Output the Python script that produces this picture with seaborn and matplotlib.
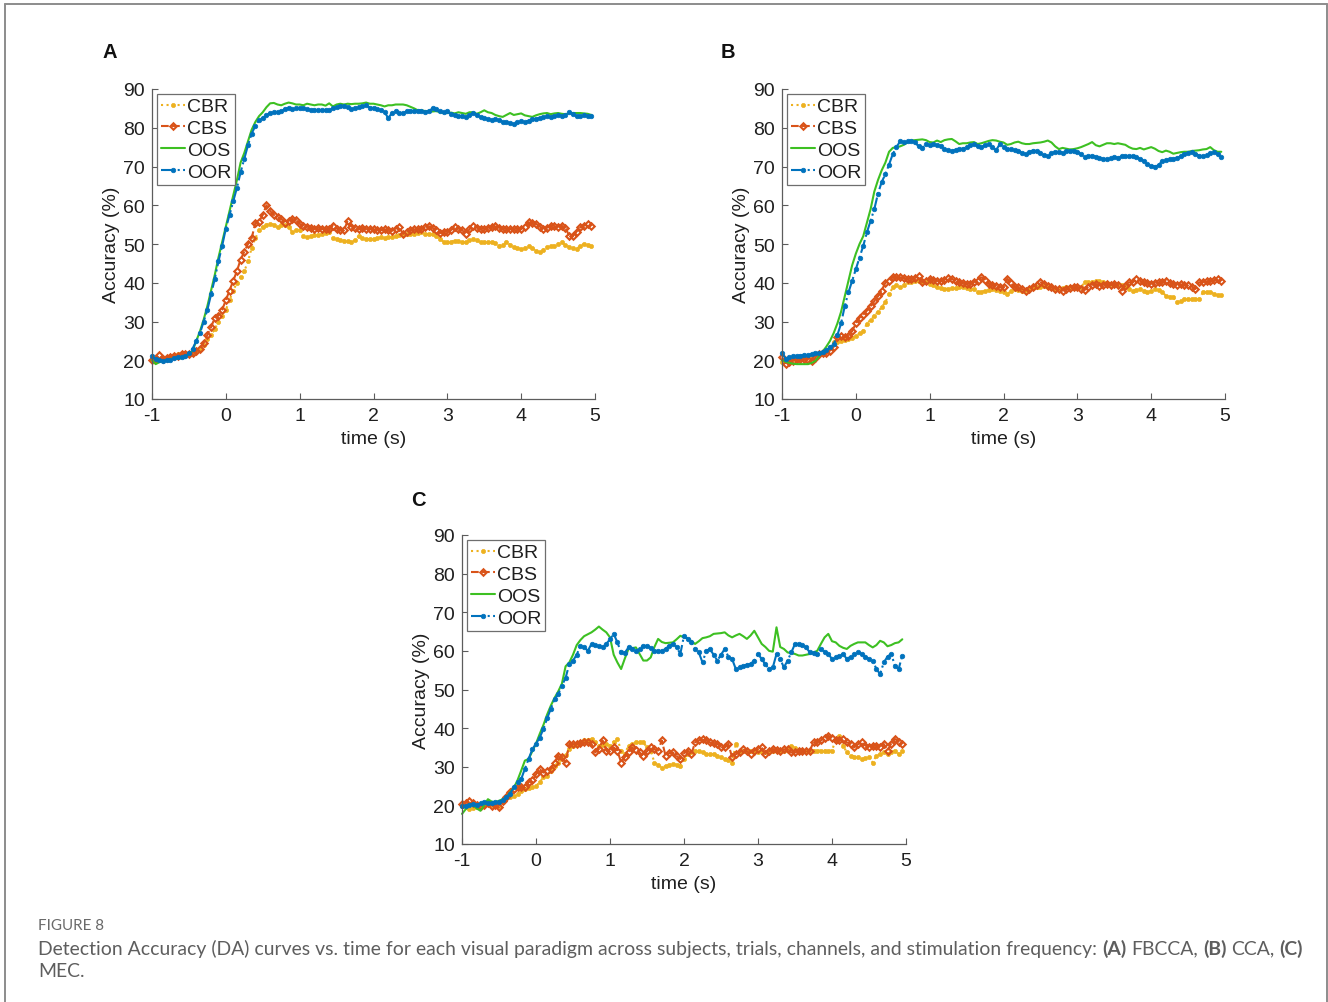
import numpy as np
import pandas as pd
import matplotlib
matplotlib.use("Agg")
import matplotlib.pyplot as plt
import seaborn as sns

# ---------------- data ----------------
time_s = np.round(np.arange(-1.0, 4.96, 0.05), 2)   # 120 samples, -1.00 ... 4.95 s

series_names = ["CBR", "CBS", "OOS", "OOR"]
panel_labels = ["A", "B", "C"]
y_ticks = [10, 20, 30, 40, 50, 60, 70, 80, 90]
x_ticks = [-1, 0, 1, 2, 3, 4, 5]

# Panel A (FBCCA)
A_CBR = [20, 20.3, 20, 20.5, 20.8, 21, 21.3, 21.5, 22, 22,
         22, 22, 22.5, 23, 24, 25.5, 26.5, 28, 30, 31.5,
         33, 35.5, 38, 40, 41.5, 43, 45.5, 49, 51.5, 53.5,
         54.5, 55, 55.2, 55, 54.3, 54.8, 55, 54.3, 53.2, 53.5,
         53.5, 52, 51.8, 52, 52.2, 52.3, 52.5, 52.8, 53, 51.5,
         51.2, 51, 50.9, 50.7, 50.5, 51, 52, 51.5, 51.3, 51.2,
         51.3, 51.5, 51.7, 51.5, 51.7, 51.8, 52, 52.2, 52.3, 52.5,
         52.5, 52.7, 52.8, 53, 52.7, 52.5, 52.6, 52, 51.3, 50.6,
         50.4, 50.6, 50.9, 50.7, 50.5, 50.4, 51, 51.3, 51, 50.4,
         50.4, 50.5, 50.4, 50.2, 49.6, 49.8, 50.4, 49.8, 49.2, 48.9,
         48.7, 49, 49.6, 49, 48.2, 47.9, 48.5, 49.2, 49.4, 49.6,
         50, 50.4, 49.8, 49.2, 49, 48.7, 49.5, 50, 49.8, 49.4]
A_CBS = [20, 20.2, 21.3, 20.2, 20.5, 20.8, 21, 21.2, 21.5, 21.5,
         21.5, 22, 22.3, 23, 24.5, 26.5, 28.5, 31, 31.5, 33,
         35.5, 38, 40.5, 43, 46, 48, 50, 51.5, 55.5, 55.8,
         57.5, 60, 58.5, 57.5, 57, 56.5, 55.5, 56, 56.5, 56.2,
         55.2, 54.7, 54.5, 54.2, 53.8, 54.2, 54, 53.8, 54, 54.7,
         54, 53.5, 53.5, 56, 54.5, 54.2, 54, 54.2, 54, 54,
         53.8, 53.5, 53.6, 53.8, 53.6, 53.4, 54, 54.3, 52.6, 53.2,
         53.6, 53.9, 53.8, 54, 54.3, 54.6, 54.2, 53.5, 52.8, 53.2,
         53.2, 53.6, 54.3, 54, 53.6, 52.6, 53.8, 54.7, 54.2, 53.9,
         53.9, 54.2, 54.4, 54.7, 54.2, 54, 53.8, 53.9, 54, 53.9,
         53.9, 54.5, 55.6, 55.3, 55.2, 54.5, 53.9, 54.2, 54.7, 54.6,
         54.5, 54.7, 54.2, 52.1, 52.1, 53.2, 54.3, 54.7, 55.2, 54.7]
A_OOS = [20, 19, 19.5, 19.8, 20, 20.3, 20.5, 20.5, 20.5, 21,
         21.5, 22.5, 25, 27.5, 30.5, 34, 38, 42, 46.5, 50.5,
         54.5, 58.5, 62.5, 66.5, 71, 73.5, 76.5, 79.5, 81.5, 83,
         84, 85.3, 86.3, 86.4, 86, 85.8, 86.2, 86.5, 86.3, 86,
         86, 85.8, 86.2, 86, 85.8, 86, 86, 85.7, 86.3, 85.5,
         86, 86.2, 86, 86.2, 86.1, 86.2, 86.2, 86.3, 86.5, 86.2,
         86.2, 86, 85.8, 85.5, 85.8, 85.8, 86, 86, 86, 85.8,
         85.4, 85, 84.5, 84.5, 84.3, 84.2, 84.2, 84.3, 84, 83.8,
         83.8, 83.9, 83.7, 84, 83.8, 83.6, 84, 84, 83.6, 84,
         84.5, 84, 83.8, 83.3, 83, 82.8, 83.3, 83.8, 83.3, 83.5,
         83.7, 83.2, 83, 82.8, 83.2, 83.5, 83.7, 83.8, 83.5, 83.7,
         83.8, 83.6, 83.5, 83.7, 83.8, 83.8, 83.8, 83.7, 83.6, 83.3]
A_OOR = [21, 20.2, 20, 19.8, 20, 20, 20.5, 20.8, 20.8, 21,
         22, 23, 25, 27, 30, 33, 37, 41, 45.5, 49.5,
         54, 57.5, 61, 64.5, 68.5, 72, 75.5, 78.5, 80.5, 82,
         82.5, 83.2, 83.8, 84, 84, 84.2, 84.8, 85.2, 84.8, 85,
         85.2, 85, 84.8, 84.6, 84.6, 84.5, 84.5, 84.6, 84.5, 85,
         85.3, 85.6, 85.5, 85.3, 84.8, 85, 85.4, 85.6, 85.8, 85.2,
         85, 84.8, 84.5, 84, 82.5, 83.8, 84.3, 83.8, 83.8, 84.2,
         84.4, 84.3, 84.3, 84.2, 84, 84.3, 85, 84.8, 84.2, 84,
         84.2, 83.6, 83.2, 83, 83, 82.8, 83.2, 83.8, 83.2, 82.8,
         82.6, 82.2, 82, 82.2, 82, 81.5, 81.4, 81.2, 80.9, 81.5,
         81.8, 81.6, 81.8, 82.2, 82.3, 82.6, 82.8, 83, 82.8, 83,
         83.2, 83, 83.2, 84, 83.5, 83, 83, 83.4, 83, 83]

# Panel B (CCA)
B_CBR = [19.5, 19.8, 20, 20.2, 20.3, 20.5, 20.8, 21, 21.2, 21.5,
         21.8, 22.2, 22.5, 23.5, 24.6, 24.8, 25, 25.2, 25.5, 25.8,
         26.2, 27, 27.6, 29.4, 30.5, 31.5, 32.5, 33.7, 35, 37,
         38.8, 39.3, 38.8, 39.5, 40.1, 40.3, 40.5, 40.5, 40.3, 40.1,
         39.8, 39.3, 38.8, 38.6, 38.4, 38.5, 38.6, 38.7, 38.8, 38.8,
         38.6, 38.4, 38.4, 37.5, 37.6, 38, 38.2, 38.4, 38.2, 38,
         37.7, 37.1, 37.8, 38.4, 38.2, 38, 38.1, 38.3, 38.6, 38.8,
         39, 39.2, 39, 38.8, 38.4, 38.4, 38.6, 38.8, 38.8, 38.8,
         38.8, 38.9, 40.1, 40.2, 40.3, 40.4, 40.5, 40.3, 40, 39.8,
         39.7, 39.7, 39.5, 39, 38.5, 38, 38.2, 38.4, 38, 37.5,
         38, 38.4, 38.2, 37.5, 36.7, 36.4, 36.2, 35, 35.3, 35.8,
         35.8, 35.8, 35.9, 35.8, 37.5, 37.6, 37.5, 37.2, 36.8, 36.8]
B_CBS = [20.8, 19, 19.5, 19.9, 20.2, 20.3, 20.3, 20, 19.9, 20.5,
         21.5, 22, 22, 22.5, 23.5, 26, 26.3, 25.9, 26.3, 27.5,
         29.5, 31, 31.8, 32.8, 34, 35.2, 36.5, 38, 40, 40.5,
         41.5, 41.6, 41.4, 41.2, 41, 41, 41.2, 41.8, 40.1, 40.5,
         41, 40.8, 40.5, 40.5, 40.8, 41.1, 41, 40.5, 40.1, 40,
         39.8, 39.7, 40.2, 40.5, 41.4, 40.8, 39.7, 39.5, 39.2, 38.8,
         38.8, 41, 40, 38.8, 39, 38.4, 38, 38.5, 39, 39.5,
         40.1, 39.8, 39.2, 38.8, 38.5, 38.4, 38, 38.3, 38.6, 38.8,
         38.8, 38.5, 38.2, 39, 39.5, 39.7, 39.2, 39.5, 39.7, 39.5,
         39.7, 39.3, 38, 39.2, 40.1, 40.2, 41, 40.5, 40.1, 40,
         39.8, 40, 40.1, 40.3, 40.5, 40, 39.7, 39.5, 39.6, 39.3,
         39.3, 39, 38.4, 40.1, 40.3, 40.4, 40.5, 40.6, 41, 40.5]
B_OOS = [20, 19.6, 19.3, 19.1, 19, 19, 19, 19, 19.3, 19.8,
         21, 22.2, 23.5, 25, 27, 29.5, 32.5, 36.5, 40.5, 44.5,
         47.5, 50, 52, 55.5, 59, 63.5, 66.5, 69, 71, 73.8,
         74.8, 75, 75.2, 75.6, 76.2, 76.7, 76.8, 76.9, 77, 76.8,
         76.3, 76.2, 76.7, 76.3, 76.8, 77, 77.1, 76.5, 75.8, 76,
         76, 76.2, 76.3, 75.8, 76, 76.3, 76.6, 76.8, 76.7, 76.4,
         76.2, 75.6, 75.8, 76.2, 76.4, 76, 75.8, 75.8, 76, 76.1,
         76.2, 76.4, 76.7, 76.2, 75.2, 74.5, 74.8, 74.6, 74.4, 74.5,
         74.7, 75, 75.4, 75.8, 76.3, 75.5, 75.2, 75.6, 76, 76,
         75.8, 76, 75.8, 75.6, 75, 74.6, 74.5, 74.8, 74.4, 74.7,
         75, 74.6, 74, 73.7, 74.1, 73.8, 73.3, 73.5, 73.7, 73.8,
         73.8, 74, 74.1, 74.2, 74.4, 74.5, 75, 74.2, 73.8, 73.8]
B_OOR = [22, 20.3, 20.8, 21, 21.2, 21.2, 21.4, 21.3, 21.6, 21.8,
         22, 22.2, 22.7, 23.3, 24.2, 26.5, 29.5, 34, 37.5, 40.5,
         43.5, 46.5, 49.5, 53, 56, 59, 63, 66, 68, 70.5,
         73.2, 75, 76.5, 76.3, 76.5, 76.7, 76.2, 75.2, 74.8, 75.8,
         75.6, 75.8, 75.5, 75.3, 74.5, 74.2, 74.1, 74.3, 74.5, 74.6,
         75, 75.5, 75.8, 75.2, 75, 75.5, 75.8, 75, 74.2, 75.8,
         75, 74.5, 74.4, 74.2, 74.1, 73.5, 73.2, 73.8, 74.1, 74,
         73.5, 73, 72.8, 73.4, 73.7, 73.8, 73.6, 74.1, 73.9, 74.1,
         73.8, 73.2, 72.4, 72.6, 72.8, 72.5, 72.2, 72, 71.9, 72.1,
         72.4, 72.3, 72.6, 72.8, 72.6, 72.8, 72.4, 71.9, 71.4, 70.6,
         70.2, 70, 70.3, 71.5, 71.7, 71.9, 72, 72.2, 72.6, 73.2,
         73.5, 73.7, 73.3, 72.8, 72.6, 73, 73.4, 73.7, 73.2, 72.4]

# Panel C (MEC)
C_CBR = [19.9, 19.5, 19.1, 19.3, 19.5, 19.8, 20.1, 20.4, 20.2, 20,
         19.9, 20.8, 21.8, 22.1, 22.5, 23, 23.8, 24.2, 24.5, 24.7,
         25, 26, 27.3, 27.7, 29, 30.3, 31.1, 32, 33, 34.5,
         35.5, 35.9, 36.3, 36.8, 37, 37.2, 36.3, 35.5, 35.7, 35.9,
         35.5, 36.5, 37.2, 34.2, 33.3, 35.5, 35.9, 36.3, 36.3, 36.3,
         35, 34.2, 31.1, 30.5, 29.8, 30.2, 30.5, 30.7, 30.5, 30.2,
         32, 33.3, 33.8, 34.2, 34, 33.7, 33.3, 33.3, 33.2, 32.9,
         32.5, 32, 31.8, 31.1, 35.9, 34.2, 34.2, 34.2, 34.2, 34,
         33.8, 33.7, 33.9, 34, 34.2, 34.2, 34.2, 34.2, 34.5, 35.5,
         34.8, 34.2, 34.2, 34.2, 34.2, 34.2, 34.2, 34.2, 34.2, 34.2,
         34.2, 37, 38, 35.5, 33.7, 32.9, 32.6, 32.4, 32, 32.2,
         32.4, 31.1, 32.9, 33.2, 33.7, 33.3, 33.8, 34.2, 33.3, 34.2]
C_CBS = [20.4, 20.6, 21.2, 20.5, 20.2, 19.9, 20.2, 20.5, 19.9, 20,
         19.5, 21.2, 22.2, 23.5, 24.2, 24.7, 24.7, 24.7, 26, 26.5,
         28, 29.4, 28.5, 28.8, 29.4, 31.1, 32.9, 32.4, 31.1, 35.9,
         35.9, 35.9, 36.1, 36.3, 36.3, 35.9, 33.7, 34.6, 36.8, 34.2,
         34.2, 35, 34.2, 31.1, 32.5, 33.7, 35, 34.3, 33.7, 32.9,
         34, 35, 34.5, 34.2, 36.8, 32.9, 33.5, 33.7, 32.8, 32,
         33.5, 34.2, 33.3, 36.3, 36.8, 37.2, 36.8, 36.3, 36.1, 35.9,
         35.2, 35, 35.9, 32.4, 33.2, 33.7, 34.6, 34, 33.3, 34.2,
         34.6, 35, 33.3, 34, 34.6, 34.4, 34.2, 34.5, 34.6, 33.7,
         33.7, 34.2, 34.2, 34.2, 34.2, 36.3, 36.5, 36.8, 37.5, 38,
         37.5, 36.8, 37, 37.2, 36.3, 36, 35, 35.8, 36.3, 35.5,
         35, 35.5, 35.5, 35, 35.9, 34.2, 36, 37.2, 36.5, 35.9]
C_OOS = [17.8, 19, 20.4, 20, 19.2, 18.6, 20, 21.6, 21, 20.8,
         21.2, 21.6, 22, 23.4, 24.5, 26.5, 29, 31.6, 32, 34,
         36, 38.5, 40.8, 43.5, 45.8, 47.8, 49.5, 51.5, 56, 57,
         59, 61.5, 62.8, 63.8, 64.3, 64.8, 65.5, 66.3, 65.5, 64.8,
         63.5, 59, 57, 55.3, 58, 60.5, 60.7, 60.9, 59.2, 57.5,
         57.5, 58.3, 61, 63.1, 62.3, 62, 62.1, 62.2, 63, 63.9,
         63.5, 63.2, 62.5, 61.8, 62.5, 63.3, 63.5, 63.8, 64.4, 64.5,
         64.6, 64.8, 64, 63.5, 64, 64.4, 63.8, 63.1, 64, 65.2,
         63.5, 61.8, 61, 60, 59.8, 66.1, 61, 60.5, 59.6, 59.4,
         59.2, 58.8, 58.8, 59, 59.2, 59.6, 60, 61.8, 63.5, 64.4,
         62.5, 62.2, 61.3, 60.8, 60.5, 61.3, 61.8, 62.2, 62.2, 62.2,
         61.5, 60.9, 61.5, 62.6, 62.2, 61.2, 61.5, 62, 62.2, 63]
C_OOR = [19.9, 19.8, 20, 20.4, 20, 20.5, 20.8, 20.5, 20.6, 20.8,
         21, 21.5, 22.1, 23, 24.7, 26, 26.8, 29.5, 32, 34.5,
         36, 37.5, 39.8, 42.5, 45, 47.5, 48.8, 51, 53, 56.6,
         57.5, 59, 61.3, 61, 60, 61.8, 61.5, 61.3, 60.9, 61.8,
         63, 64.4, 62.2, 59.6, 59.5, 60.9, 60.5, 60, 60.5, 61.3,
         61.3, 60.8, 60, 60, 60, 60.5, 61.3, 61.8, 61, 59.2,
         63.9, 63.1, 62.2, 60.5, 59.6, 57, 60, 60.5, 59, 57.5,
         59, 60.5, 58.5, 57.9, 55.3, 55.8, 56.2, 56.4, 56.6, 57.5,
         59.2, 57.9, 56.5, 55.3, 55.7, 59.2, 57.9, 55.7, 57.5, 59.6,
         61.8, 61.8, 61.5, 60.9, 59.6, 59.4, 59.2, 60.5, 59.8, 59.2,
         57.9, 58.3, 58.7, 59.2, 57.9, 58.5, 59.2, 59.6, 59.2, 58.5,
         57.9, 57.5, 55.3, 54, 57, 58.5, 59.2, 56.2, 55.3, 58.8]

panels = {
    "A": {"CBR": A_CBR, "CBS": A_CBS, "OOS": A_OOS, "OOR": A_OOR},
    "B": {"CBR": B_CBR, "CBS": B_CBS, "OOS": B_OOS, "OOR": B_OOR},
    "C": {"CBR": C_CBR, "CBS": C_CBS, "OOS": C_OOS, "OOR": C_OOR},
}
for p in panels.values():
    for k, v in p.items():
        assert len(v) == len(time_s), (k, len(v))

caption_head = "FIGURE 8"
caption_line1 = [("Detection Accuracy (DA) curves vs. time for each visual paradigm across "
                  "subjects, trials, channels, and stimulation frequency:", False),
                 ("(A)", True), ("FBCCA,", False), ("(B)", True), ("CCA,", False), ("(C)", True)]
caption_line2 = [("MEC.", False)]

# ---------------- styles ----------------
styles = {
    "CBR": dict(color="#EDB120", linestyle=":", marker="o", markersize=3.0,
                markerfacecolor="#EDB120", markeredgewidth=0.5),
    "CBS": dict(color="#D95319", linestyle="--", marker="D", markersize=3.3,
                markerfacecolor="none", markeredgewidth=1.5),
    "OOS": dict(color="#3DC022", linestyle="-", marker=None, markersize=0,
                markerfacecolor="none", markeredgewidth=0),
    "OOR": dict(color="#0072BD", linestyle="-.", marker="o", markersize=3.3,
                markerfacecolor="#0072BD", markeredgewidth=0.5),
}

sns.set_style("ticks")
plt.rcParams["font.family"] = ["Liberation Sans", "DejaVu Sans"]

W, H = 1328, 1003
fig = plt.figure(figsize=(W / 100, H / 100), dpi=100)

axes_px = {"A": (152, 90, 595, 400), "B": (782, 90, 1225, 400), "C": (462, 536, 906, 845)}
letter_px = {"A": (110, 52), "B": (728, 52), "C": (418, 500)}

axis_col = "#5c5c5c"
text_col = "#1f1f1f"
fs = 14

for key in panel_labels:
    l, t, r, b = axes_px[key]
    ax = fig.add_axes([l / W, 1 - b / H, (r - l) / W, (b - t) / H])
    data = panels[key]
    for name in series_names:
        st = styles[name]
        sns.lineplot(x=time_s, y=data[name], ax=ax, label=name,
                     color=st["color"], linestyle=st["linestyle"], linewidth=1.5,
                     marker=st["marker"], markersize=st["markersize"],
                     markerfacecolor=st["markerfacecolor"],
                     markeredgecolor=st["color"], markeredgewidth=st["markeredgewidth"],
                     estimator=None, sort=False, errorbar=None, clip_on=False)
    ax.set_xlim(-1, 5)
    ax.set_ylim(10, 90)
    ax.set_xticks(x_ticks)
    ax.set_yticks(y_ticks)
    ax.set_xticklabels([f"{v:d}" for v in x_ticks])
    ax.set_yticklabels([f"{v:d}" for v in y_ticks])
    sns.despine(ax=ax)
    for s in ("left", "bottom"):
        ax.spines[s].set_color(axis_col)
        ax.spines[s].set_linewidth(0.9)
    ax.tick_params(axis="y", direction="in", length=4, width=0.8, color=axis_col,
                   labelsize=fs, labelcolor=text_col, pad=5)
    ax.tick_params(axis="x", direction="in", length=4, width=0.8, color=axis_col,
                   labelsize=fs, labelcolor=text_col, pad=6)
    ax.set_xlabel("time (s)", fontsize=fs, color=text_col, labelpad=4)
    ax.set_ylabel("Accuracy (%)", fontsize=fs, color=text_col, labelpad=2)
    leg = ax.legend(loc="upper left", bbox_to_anchor=(0.0, 1.0), fontsize=fs,
                    frameon=True, fancybox=False, framealpha=1, edgecolor="#6e6e6e",
                    borderaxespad=0.25, borderpad=0.2, handlelength=1.25,
                    handletextpad=0.1, labelspacing=0.22)
    leg.get_frame().set_linewidth(0.9)
    for txt in leg.get_texts():
        txt.set_color(text_col)
    lx, ly = letter_px[key]
    fig.text(lx / W, 1 - ly / H, key, fontsize=14.5, fontweight="bold",
             color="#111111", ha="center", va="center")

# ---------------- outer frame ----------------
frame_col = "#8c8c8c"
fig.add_artist(plt.Line2D([4.5 / W, 4.5 / W], [0, 1 - 5 / H], transform=fig.transFigure,
                          color=frame_col, lw=1.4))
fig.add_artist(plt.Line2D([4.5 / W, 1326.5 / W], [1 - 5 / H, 1 - 5 / H],
                          transform=fig.transFigure, color=frame_col, lw=1.4))
fig.add_artist(plt.Line2D([1326.5 / W, 1326.5 / W], [0, 1 - 5 / H], transform=fig.transFigure,
                          color=frame_col, lw=1.4))

# ---------------- caption ----------------
cap_col = "#5e5e5e"
cap_font = ["Lato", "DejaVu Sans"]
renderer = fig.canvas.get_renderer()


def draw_rich(parts, x0, yc, size, draw=True):
    probe1 = fig.text(0, 0, "x x", fontsize=size, family=cap_font)
    probe2 = fig.text(0, 0, "xx", fontsize=size, family=cap_font)
    space_w = (probe1.get_window_extent(renderer).width
               - probe2.get_window_extent(renderer).width)
    probe1.remove()
    probe2.remove()
    x = x0
    made = []
    for i, (txt, bold) in enumerate(parts):
        t = fig.text(x / W, 1 - yc / H, txt, fontsize=size, family=cap_font,
                     fontweight="bold" if bold else "normal", color=cap_col,
                     ha="left", va="center")
        x += t.get_window_extent(renderer).width
        if i < len(parts) - 1:
            x += space_w
        made.append(t)
    if not draw:
        for t in made:
            t.remove()
    return x - x0


cap_size = 13.0
for _ in range(3):
    w = draw_rich(caption_line1, 38, 949, cap_size, draw=False)
    cap_size = cap_size * (1301 - 38) / w
draw_rich(caption_line1, 38, 949, cap_size)
draw_rich(caption_line2, 38, 972, cap_size)
fig.text(38 / W, 1 - 926 / H, caption_head, fontsize=cap_size * 0.78, family=cap_font,
         color="#6a6a6a", ha="left", va="center")

fig.savefig("out.png", dpi=100)
